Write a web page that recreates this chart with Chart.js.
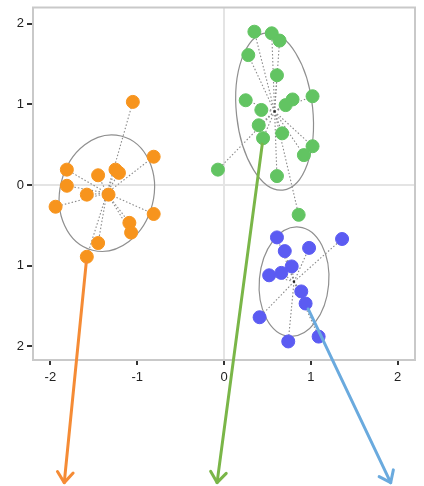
<!DOCTYPE html>
<html>
<head>
<meta charset="utf-8">
<script src="https://cdn.jsdelivr.net/npm/chart.js@4.4.1/dist/chart.umd.min.js"></script>
<style>
  html, body { margin: 0; padding: 0; background: #fff; }
  #wrap { width: 424px; height: 486px; }
</style>
</head>
<body>
<div id="wrap"><canvas id="chart" width="424" height="486"></canvas></div>
<script>
// group A (orange)
const orangeX = [-1.05, -0.81, -1.81, -1.81, -1.45, -1.25, -1.21, -1.58, -1.33, -1.94, -0.81, -1.09, -1.07, -1.45, -1.58];
const orangeY = [1.03, 0.35, 0.19, -0.01, 0.12, 0.19, 0.15, -0.12, -0.12, -0.27, -0.36, -0.47, -0.59, -0.72, -0.89];
// group B (green)
const greenX = [0.35, 0.55, 0.64, 0.28, 0.61, 0.25, 0.43, 0.79, 0.71, 1.02, 0.40, 0.67, 0.45, 1.02, 0.92, -0.07, 0.61, 0.86];
const greenY = [1.90, 1.88, 1.79, 1.61, 1.36, 1.05, 0.93, 1.06, 0.99, 1.10, 0.74, 0.64, 0.58, 0.48, 0.37, 0.19, 0.11, -0.37];
// group C (blue)
const blueX = [0.61, 0.70, 0.98, 1.36, 0.78, 0.66, 0.52, 0.89, 0.94, 0.41, 1.09, 0.74];
const blueY = [-0.65, -0.82, -0.78, -0.67, -1.01, -1.09, -1.12, -1.32, -1.47, -1.64, -1.88, -1.94];

// ellipse: [semi-axis x, semi-axis y, rotation deg] in data units
const orangeEllipse = [0.54, 0.73, 14];
const greenEllipse = [0.44, 0.98, -6];
const blueEllipse = [0.40, 0.68, 5];

// arrows: start point index, end [x, y]
const orangeArrow = [14, -1.84, -3.69];
const greenArrow = [12, -0.08, -3.69];
const blueArrow = [8, 1.92, -3.69];

const xTicks = [-2, -1, 0, 1, 2];
const xTickLabels = ['-2', '-1', '0', '1', '2'];
const yTicks = [2, 1, 0, -1, -2];
const yTickLabels = ['2', '1', '0', '1', '2'];

const groups = [
  { x: orangeX, y: orangeY, ell: orangeEllipse, arrow: orangeArrow, color: '#f7941d', arrowColor: '#f58b35' },
  { x: greenX, y: greenY, ell: greenEllipse, arrow: greenArrow, color: '#62c462', arrowColor: '#7ab648' },
  { x: blueX, y: blueY, ell: blueEllipse, arrow: blueArrow, color: '#5b5bf2', arrowColor: '#6aaade' }
];

function mean(a) { return a.reduce((s, v) => s + v, 0) / a.length; }

const overlayPlugin = {
  id: 'overlay',
  beforeDatasetsDraw(chart) {
    const ctx = chart.ctx;
    const xs = chart.scales.x, ys = chart.scales.y;
    const pxPerX = Math.abs(xs.getPixelForValue(1) - xs.getPixelForValue(0));
    const pxPerY = Math.abs(ys.getPixelForValue(1) - ys.getPixelForValue(0));
    ctx.save();
    groups.forEach(g => {
      const cx = xs.getPixelForValue(mean(g.x));
      const cy = ys.getPixelForValue(mean(g.y));
      // spokes from the group centre
      ctx.strokeStyle = '#8a8a8a';
      ctx.lineWidth = 1.1;
      ctx.setLineDash([1.5, 2]);
      g.x.forEach((v, i) => {
        ctx.beginPath();
        ctx.moveTo(cx, cy);
        ctx.lineTo(xs.getPixelForValue(v), ys.getPixelForValue(g.y[i]));
        ctx.stroke();
      });
      // ellipse
      ctx.setLineDash([]);
      ctx.strokeStyle = '#8f8f8f';
      ctx.lineWidth = 1.2;
      ctx.beginPath();
      ctx.ellipse(cx, cy, g.ell[0] * pxPerX, g.ell[1] * pxPerY, g.ell[2] * Math.PI / 180, 0, Math.PI * 2);
      ctx.stroke();
      ctx.fillStyle = '#222';
      ctx.fillRect(cx - 1, cy - 1, 2, 2);
    });
    ctx.restore();
  },
  afterDraw(chart) {
    const ctx = chart.ctx;
    const xs = chart.scales.x, ys = chart.scales.y;
    const a = chart.chartArea;
    ctx.save();
    // frame
    ctx.strokeStyle = '#c9c9c9';
    ctx.lineWidth = 2;
    ctx.strokeRect(a.left, a.top, a.right - a.left, a.bottom - a.top);
    // arrows
    groups.forEach(g => {
      const i = g.arrow[0];
      const sx = xs.getPixelForValue(g.x[i]), sy = ys.getPixelForValue(g.y[i]);
      const ex = xs.getPixelForValue(g.arrow[1]), ey = ys.getPixelForValue(g.arrow[2]);
      const ang = Math.atan2(ey - sy, ex - sx);
      const r = 6;
      ctx.strokeStyle = g.arrowColor;
      ctx.lineWidth = 3;
      ctx.lineCap = 'round';
      ctx.lineJoin = 'round';
      ctx.beginPath();
      ctx.moveTo(sx + r * Math.cos(ang), sy + r * Math.sin(ang));
      ctx.lineTo(ex, ey);
      ctx.stroke();
      const h = 13, spread = 0.65;
      ctx.beginPath();
      ctx.moveTo(ex - h * Math.cos(ang - spread), ey - h * Math.sin(ang - spread));
      ctx.lineTo(ex, ey);
      ctx.lineTo(ex - h * Math.cos(ang + spread), ey - h * Math.sin(ang + spread));
      ctx.stroke();
    });
    ctx.restore();
  }
};

const datasets = groups.map(g => ({
  data: g.x.map((v, i) => ({ x: v, y: g.y[i] })),
  backgroundColor: g.color,
  borderColor: g.color,
  borderWidth: 1,
  pointRadius: 6.5,
  pointHoverRadius: 6.5
}));

new Chart(document.getElementById('chart'), {
  type: 'scatter',
  data: { datasets },
  plugins: [overlayPlugin],
  options: {
    responsive: false,
    animation: false,
    events: [],
    layout: { padding: { left: 0, top: 6, right: 9, bottom: 102 } },
    plugins: { legend: { display: false }, tooltip: { enabled: false } },
    scales: {
      x: {
        min: -2.2, max: 2.2,
        afterBuildTicks: s => { s.ticks = xTicks.map(v => ({ value: v })); },
        afterFit: s => { s.height = 24; s.paddingLeft = 0; s.paddingRight = 0; },
        border: { display: false },
        grid: {
          color: c => c.tick && c.tick.value === 0 ? '#e4e4e4' : 'rgba(0,0,0,0)',
          lineWidth: 2,
          tickColor: '#333',
          tickLength: 5
        },
        ticks: {
          padding: 5,
          color: '#222',
          font: { family: 'Liberation Sans', size: 13 },
          callback: v => xTickLabels[xTicks.indexOf(v)]
        }
      },
      y: {
        min: -2.17, max: 2.2,
        afterBuildTicks: s => { s.ticks = yTicks.map(v => ({ value: v })); },
        afterFit: s => { s.width = 33; s.paddingTop = 0; s.paddingBottom = 0; },
        border: { display: false },
        grid: {
          color: c => c.tick && c.tick.value === 0 ? '#e4e4e4' : 'rgba(0,0,0,0)',
          lineWidth: 2,
          tickColor: '#333',
          tickLength: 6
        },
        ticks: {
          padding: 3,
          color: '#222',
          font: { family: 'Liberation Sans', size: 13 },
          callback: v => yTickLabels[yTicks.indexOf(v)]
        }
      }
    }
  }
});
</script>
</body>
</html>
